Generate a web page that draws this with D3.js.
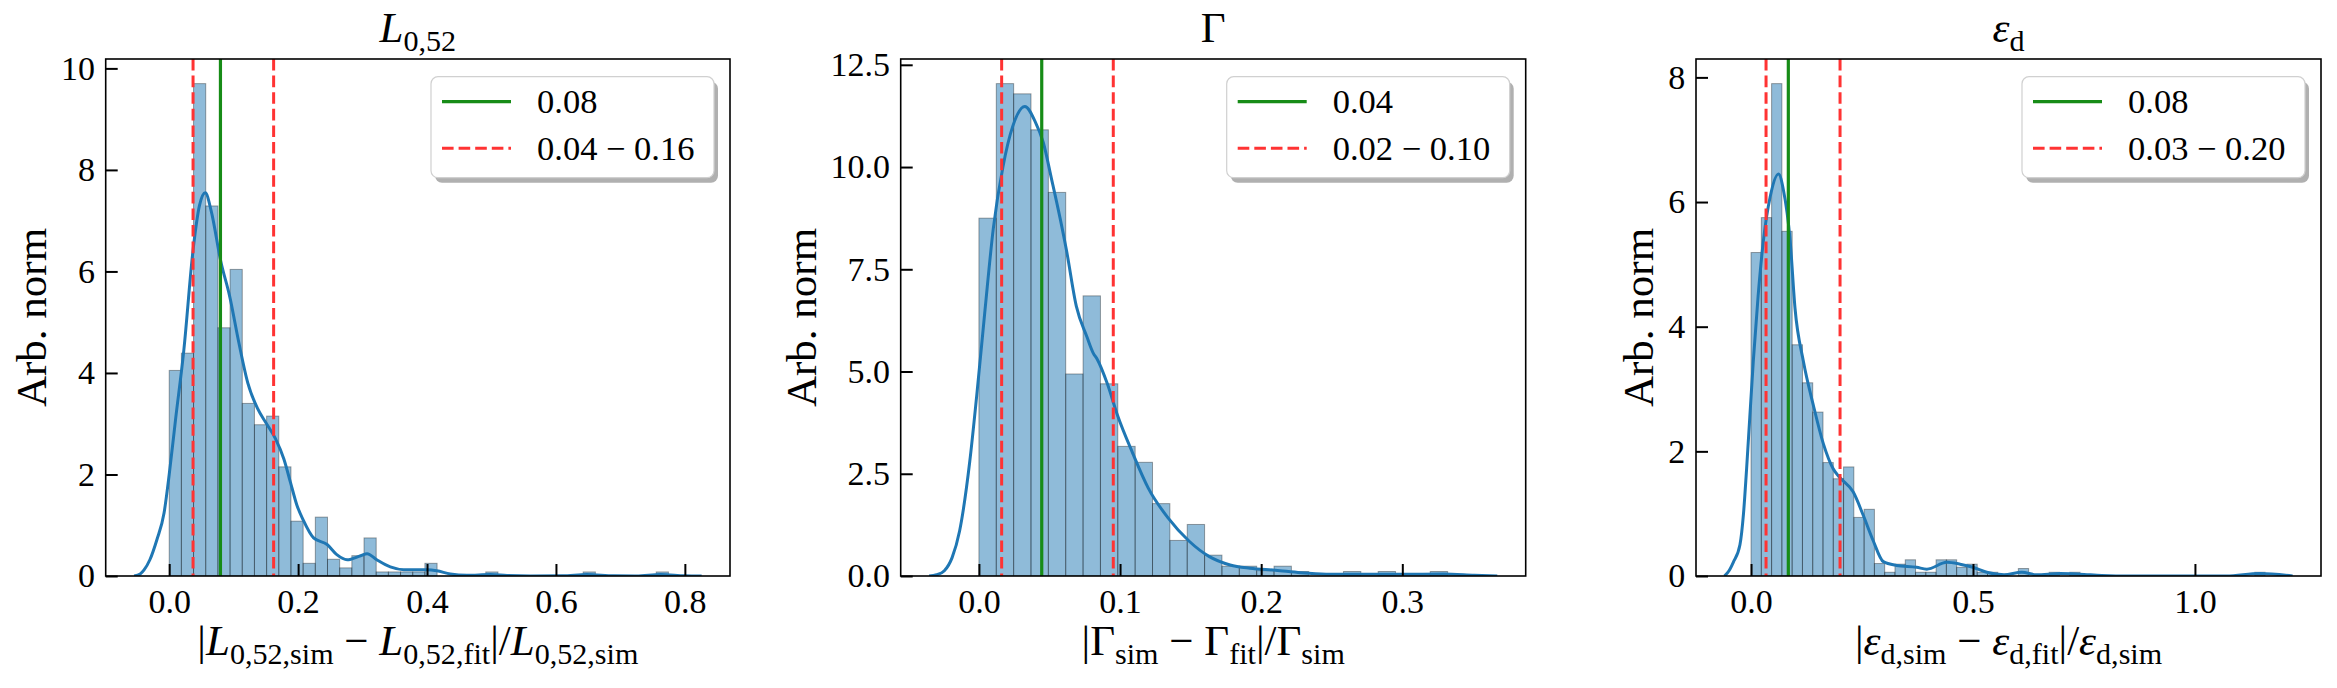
<!doctype html>
<html>
<head>
<meta charset="utf-8">
<title>Fit residuals</title>
<script src="https://d3js.org/d3.v7.min.js"></script>
<style>
body { margin: 0; background: #fff; }
</style>
</head>
<body>
<svg id="chart" width="2337" height="688"></svg>
<script>

// ---- data ----

// L_{0,52}
var binWidthL = 0.01889;
var histL = [4.05, 4.39, 9.70, 7.29, 4.89, 6.04, 3.40, 2.98, 3.15, 2.15, 1.08, 0.25, 1.16, 0.33, 0.16, 0.40, 0.75,
             0.08, 0.08, 0.08, 0.08, 0.25, 0, 0, 0, 0, 0.08, 0, 0, 0, 0, 0, 0, 0, 0.08, 0, 0, 0, 0, 0, 0.08];
var kdeL = [[-0.0545, 0], [-0.045, 0.04], [-0.039, 0.12], [-0.03, 0.32], [-0.019, 0.72], [-0.008, 1.24], [0.0, 2.0],
            [0.01, 3.1], [0.0227, 4.45], [0.037, 6.42], [0.047, 7.3], [0.056, 7.55], [0.065, 7.2], [0.08, 6.2],
            [0.094, 5.5], [0.108, 4.6], [0.122, 3.8], [0.137, 3.3], [0.151, 3.0], [0.165, 2.7], [0.178, 2.3],
            [0.188, 1.85], [0.198, 1.4], [0.208, 1.1], [0.224, 0.75], [0.245, 0.62], [0.26, 0.42], [0.276, 0.32],
            [0.297, 0.40], [0.307, 0.44], [0.322, 0.32], [0.343, 0.18], [0.364, 0.125], [0.4, 0.125], [0.415, 0.105],
            [0.436, 0.04], [0.462, 0.013], [0.498, 0.03], [0.524, 0.01], [0.56, 0.0], [0.61, 0.003], [0.648, 0.03],
            [0.69, 0.003], [0.725, 0.0], [0.762, 0.03], [0.8, 0.005], [0.826, 0]];
var statsL = [0.0795, 0.037, 0.162];          // median, 16th, 84th percentile
var legendL = ["0.08", "0.04 \u2212 0.16"];
var xTicksL = [0, 0.2, 0.4, 0.6, 0.8];
var xTickLabelsL = ["0.0", "0.2", "0.4", "0.6", "0.8"];
var yTicksL = [0, 2, 4, 6, 8, 10];
var yTickLabelsL = ["0", "2", "4", "6", "8", "10"];

// Gamma
var binWidthG = 0.01230;
var histG = [8.75, 12.04, 11.79, 10.91, 9.38, 4.94, 6.85, 4.70, 3.17, 2.78, 1.77, 0.87, 1.26, 0.51, 0.24, 0.24,
             0.13, 0.24, 0.11, 0, 0, 0.11, 0, 0.11, 0, 0, 0.11];
var kdeG = [[-0.0353, 0], [-0.03, 0.03], [-0.0245, 0.13], [-0.019, 0.45], [-0.0137, 1.1], [-0.0065, 2.8],
            [-0.0016, 4.4], [0.0043, 6.5], [0.0102, 8.5], [0.017, 10.0], [0.024, 11.0], [0.0325, 11.48], [0.040, 11.1],
            [0.0456, 10.6], [0.0515, 9.7], [0.0575, 8.75], [0.062, 7.97], [0.069, 6.6], [0.0765, 5.85], [0.081, 5.45],
            [0.0838, 5.3], [0.091, 4.7], [0.098, 3.95], [0.109, 3.0], [0.120, 2.15], [0.134, 1.42], [0.149, 0.85],
            [0.163, 0.48], [0.178, 0.27], [0.192, 0.19], [0.210, 0.14], [0.228, 0.08], [0.246, 0.045], [0.264, 0.04],
            [0.30, 0.04], [0.329, 0.05], [0.351, 0.02], [0.3673, 0]];
var statsG = [0.0445, 0.0161, 0.0952];
var legendG = ["0.04", "0.02 \u2212 0.10"];
var xTicksG = [0, 0.1, 0.2, 0.3];
var xTickLabelsG = ["0.0", "0.1", "0.2", "0.3"];
var yTicksG = [0, 2.5, 5, 7.5, 10, 12.5];
var yTickLabelsG = ["0.0", "2.5", "5.0", "7.5", "10.0", "12.5"];

// epsilon_d
var binWidthE = 0.02316;
var histE = [5.19, 5.75, 7.90, 5.53, 3.71, 3.10, 2.63, 1.82, 1.56, 1.75, 0.94, 1.07, 0.20, 0.06, 0.19, 0.26, 0.06,
             0.06, 0.26, 0.26, 0.14, 0.19, 0.06, 0.06, 0, 0, 0.12, 0, 0, 0.06, 0, 0.06,
             0, 0, 0, 0, 0, 0, 0, 0, 0, 0, 0, 0, 0, 0, 0, 0, 0, 0.06];
var kdeE = [[-0.060, 0], [-0.05, 0.08], [-0.04, 0.22], [-0.025, 0.5], [-0.017, 1.0], [-0.010, 1.72], [0.005, 3.44],
            [0.016, 4.5], [0.028, 5.39], [0.043, 6.08], [0.062, 6.45], [0.073, 6.19], [0.088, 5.39], [0.099, 4.3],
            [0.118, 3.44], [0.140, 2.75], [0.163, 2.12], [0.185, 1.72], [0.200, 1.58], [0.230, 1.35], [0.253, 0.97],
            [0.275, 0.57], [0.298, 0.23], [0.328, 0.17], [0.373, 0.14], [0.396, 0.11], [0.441, 0.22], [0.471, 0.19],
            [0.50, 0.14], [0.531, 0.06], [0.57, 0.02], [0.61, 0.06], [0.643, 0.02], [0.696, 0.04], [0.74, 0.03],
            [0.79, 0.01], [0.85, 0.0], [1.071, 0.0], [1.146, 0.04], [1.22, 0]];
var statsE = [0.084, 0.0338, 0.2005];
var legendE = ["0.08", "0.03 \u2212 0.20"];
var xTicksE = [0, 0.5, 1.0];
var xTickLabelsE = ["0.0", "0.5", "1.0"];
var yTicksE = [0, 2, 4, 6, 8];
var yTickLabelsE = ["0", "2", "4", "6", "8"];

// math-ish labels: [text, kind]  n = upright, i = italic, s = subscript
var titleL = [["L", "i"], ["0,52", "s"]];
var titleG = [["\u0393", "n"]];
var titleE = [["\u03b5", "i"], ["d", "s"]];
var xLabelL = [["|", "n"], ["L", "i"], ["0,52,sim", "s"], [" \u2212 ", "n"], ["L", "i"], ["0,52,fit", "s"],
               ["|/", "n"], ["L", "i"], ["0,52,sim", "s"]];
var xLabelG = [["|\u0393", "n"], ["sim", "s"], [" \u2212 \u0393", "n"], ["fit", "s"], ["|/\u0393", "n"], ["sim", "s"]];
var xLabelE = [["|", "n"], ["\u03b5", "i"], ["d,sim", "s"], [" \u2212 ", "n"], ["\u03b5", "i"], ["d,fit", "s"],
               ["|/", "n"], ["\u03b5", "i"], ["d,sim", "s"]];

// ---- layout ----
var FONT = "'Liberation Serif', 'Times New Roman', serif";
var axTop = 59, axBottom = 576;
var tickFont = 34, labelFont = 43, legendFont = 34.5;
var barColor = "#1f77b4", medColor = "#178c17", pctColor = "#ff3333";

var panels = [
  {left: 105.7, right: 730, hist: histL, bw: binWidthL, kde: kdeL, stats: statsL, legend: legendL,
   xt: xTicksL, xtl: xTickLabelsL, yt: yTicksL, ytl: yTickLabelsL, title: titleL, xlabel: xLabelL},
  {left: 900.7, right: 1525.7, hist: histG, bw: binWidthG, kde: kdeG, stats: statsG, legend: legendG,
   xt: xTicksG, xtl: xTickLabelsG, yt: yTicksG, ytl: yTickLabelsG, title: titleG, xlabel: xLabelG},
  {left: 1696, right: 2321, hist: histE, bw: binWidthE, kde: kdeE, stats: statsE, legend: legendE,
   xt: xTicksE, xtl: xTickLabelsE, yt: yTicksE, ytl: yTickLabelsE, title: titleE, xlabel: xLabelE}
];

var svg = d3.select("#chart");

function txt(sel, size) {
  return sel.append("text")
    .attr("font-family", FONT).style("font-family", FONT)
    .attr("font-size", size).style("white-space", "pre").attr("fill", "#000");
}

// write a list of [text, kind] parts as tspans
function mathText(t, parts, size) {
  var shift = 0;
  parts.forEach(function(p) {
    var ts = t.append("tspan").text(p[0]).style("font-family", FONT);
    var target = 0;
    if (p[1] == "i") ts.style("font-style", "italic");
    if (p[1] == "s") { ts.attr("font-size", size * 0.7); target = size * 0.2; }
    if (target != shift) ts.attr("dy", target - shift);
    shift = target;
  });
}

panels.forEach(function(p, pi) {
  var g = svg.append("g");

  var k0 = p.kde[0][0], k1 = p.kde[p.kde.length - 1][0];
  var span = k1 - k0;
  var x = d3.scaleLinear().domain([k0 - 0.05 * span, k1 + 0.05 * span]).range([p.left, p.right]);
  var ymax = Math.max(d3.max(p.hist), d3.max(p.kde, function(d) { return d[1]; })) * 1.05;
  var y = d3.scaleLinear().domain([0, ymax]).range([axBottom, axTop]);

  g.append("clipPath").attr("id", "clip" + pi)
    .append("rect").attr("x", p.left).attr("y", axTop)
    .attr("width", p.right - p.left).attr("height", axBottom - axTop);

  var plot = g.append("g").attr("clip-path", "url(#clip" + pi + ")");

  // histogram bars
  plot.selectAll("rect.bar")
    .data(p.hist.map(function(h, i) { return {i: i, h: h}; }).filter(function(d) { return d.h > 0; }))
    .enter().append("rect").attr("class", "bar")
    .attr("x", function(d) { return x(d.i * p.bw); })
    .attr("width", function(d) { return x((d.i + 1) * p.bw) - x(d.i * p.bw); })
    .attr("y", function(d) { return y(d.h); })
    .attr("height", function(d) { return y(0) - y(d.h); })
    .attr("fill", barColor).attr("fill-opacity", 0.5)
    .attr("stroke", "#000").attr("stroke-opacity", 0.35).attr("stroke-width", 1);

  // kde
  var line = d3.line()
    .x(function(d) { return x(d[0]); })
    .y(function(d) { return y(d[1]); })
    .curve(d3.curveMonotoneX);
  plot.append("path").datum(p.kde)
    .attr("d", line).attr("fill", "none")
    .attr("stroke", barColor).attr("stroke-width", 3).attr("stroke-linejoin", "round");

  // median and percentiles
  plot.append("line")
    .attr("x1", x(p.stats[0])).attr("x2", x(p.stats[0]))
    .attr("y1", axTop).attr("y2", axBottom)
    .attr("stroke", medColor).attr("stroke-width", 3.2);
  [p.stats[1], p.stats[2]].forEach(function(v) {
    plot.append("line")
      .attr("x1", x(v)).attr("x2", x(v))
      .attr("y1", axTop).attr("y2", axBottom)
      .attr("stroke", pctColor).attr("stroke-width", 3)
      .attr("stroke-dasharray", "11.6,5");
  });

  // axes
  var xAxis = d3.axisBottom(x).tickValues(p.xt)
    .tickFormat(function(d, i) { return p.xtl[i]; })
    .tickSizeInner(-12).tickSizeOuter(0).tickPadding(12.4);
  var gx = g.append("g").attr("transform", "translate(0," + axBottom + ")").call(xAxis);
  var yAxis = d3.axisLeft(y).tickValues(p.yt)
    .tickFormat(function(d, i) { return p.ytl[i]; })
    .tickSizeInner(-12).tickSizeOuter(0).tickPadding(10.7);
  var gy = g.append("g").attr("transform", "translate(" + p.left + ",0)").call(yAxis);
  [gx, gy].forEach(function(a) {
    a.attr("font-family", FONT).attr("font-size", tickFont);
    a.select(".domain").remove();
    a.selectAll(".tick line").attr("stroke", "#000").attr("stroke-width", 2);
    a.selectAll(".tick text").attr("font-size", tickFont)
      .attr("font-family", FONT).style("font-family", FONT);
  });

  // spines
  g.append("rect")
    .attr("x", p.left).attr("y", axTop)
    .attr("width", p.right - p.left).attr("height", axBottom - axTop)
    .attr("fill", "none").attr("stroke", "#000").attr("stroke-width", 1.6);

  // title
  var title = txt(g, labelFont)
    .attr("x", (p.left + p.right) / 2).attr("y", 42)
    .attr("text-anchor", "middle");
  mathText(title, p.title, labelFont);

  // x label
  var xl = txt(g, labelFont)
    .attr("x", (p.left + p.right) / 2).attr("y", 655)
    .attr("text-anchor", "middle");
  mathText(xl, p.xlabel, labelFont);

  // y label, placed left of the widest tick label
  var tickLeft = d3.min(gy.selectAll(".tick text").nodes(), function(n) { return n.getBBox().x; });
  var ylx = p.left + tickLeft - 15;
  txt(g, labelFont)
    .attr("transform", "translate(" + ylx + "," + ((axTop + axBottom) / 2) + ") rotate(-90)")
    .attr("text-anchor", "middle")
    .text("Arb. norm");

  // legend
  var lw = 283, lh = 101;
  var lx = p.right - 16 - lw, ly = axTop + 17.7;
  var lg = g.append("g");
  lg.append("rect").attr("x", lx + 4).attr("y", ly + 5).attr("width", lw).attr("height", lh)
    .attr("rx", 7).attr("fill", "#b0b0b0");
  lg.append("rect").attr("x", lx).attr("y", ly).attr("width", lw).attr("height", lh)
    .attr("rx", 7).attr("fill", "#fff").attr("stroke", "#d0d0d0").attr("stroke-width", 1.2);
  var rows = [ly + 25, ly + 71.5];
  lg.append("line").attr("x1", lx + 11).attr("x2", lx + 80).attr("y1", rows[0]).attr("y2", rows[0])
    .attr("stroke", medColor).attr("stroke-width", 3.2);
  lg.append("line").attr("x1", lx + 11).attr("x2", lx + 80).attr("y1", rows[1]).attr("y2", rows[1])
    .attr("stroke", pctColor).attr("stroke-width", 3).attr("stroke-dasharray", "11.6,5");
  p.legend.forEach(function(s, i) {
    txt(lg, legendFont).attr("x", lx + 106).attr("y", rows[i] + 11.5).text(s);
  });
});

</script>
</body>
</html>
